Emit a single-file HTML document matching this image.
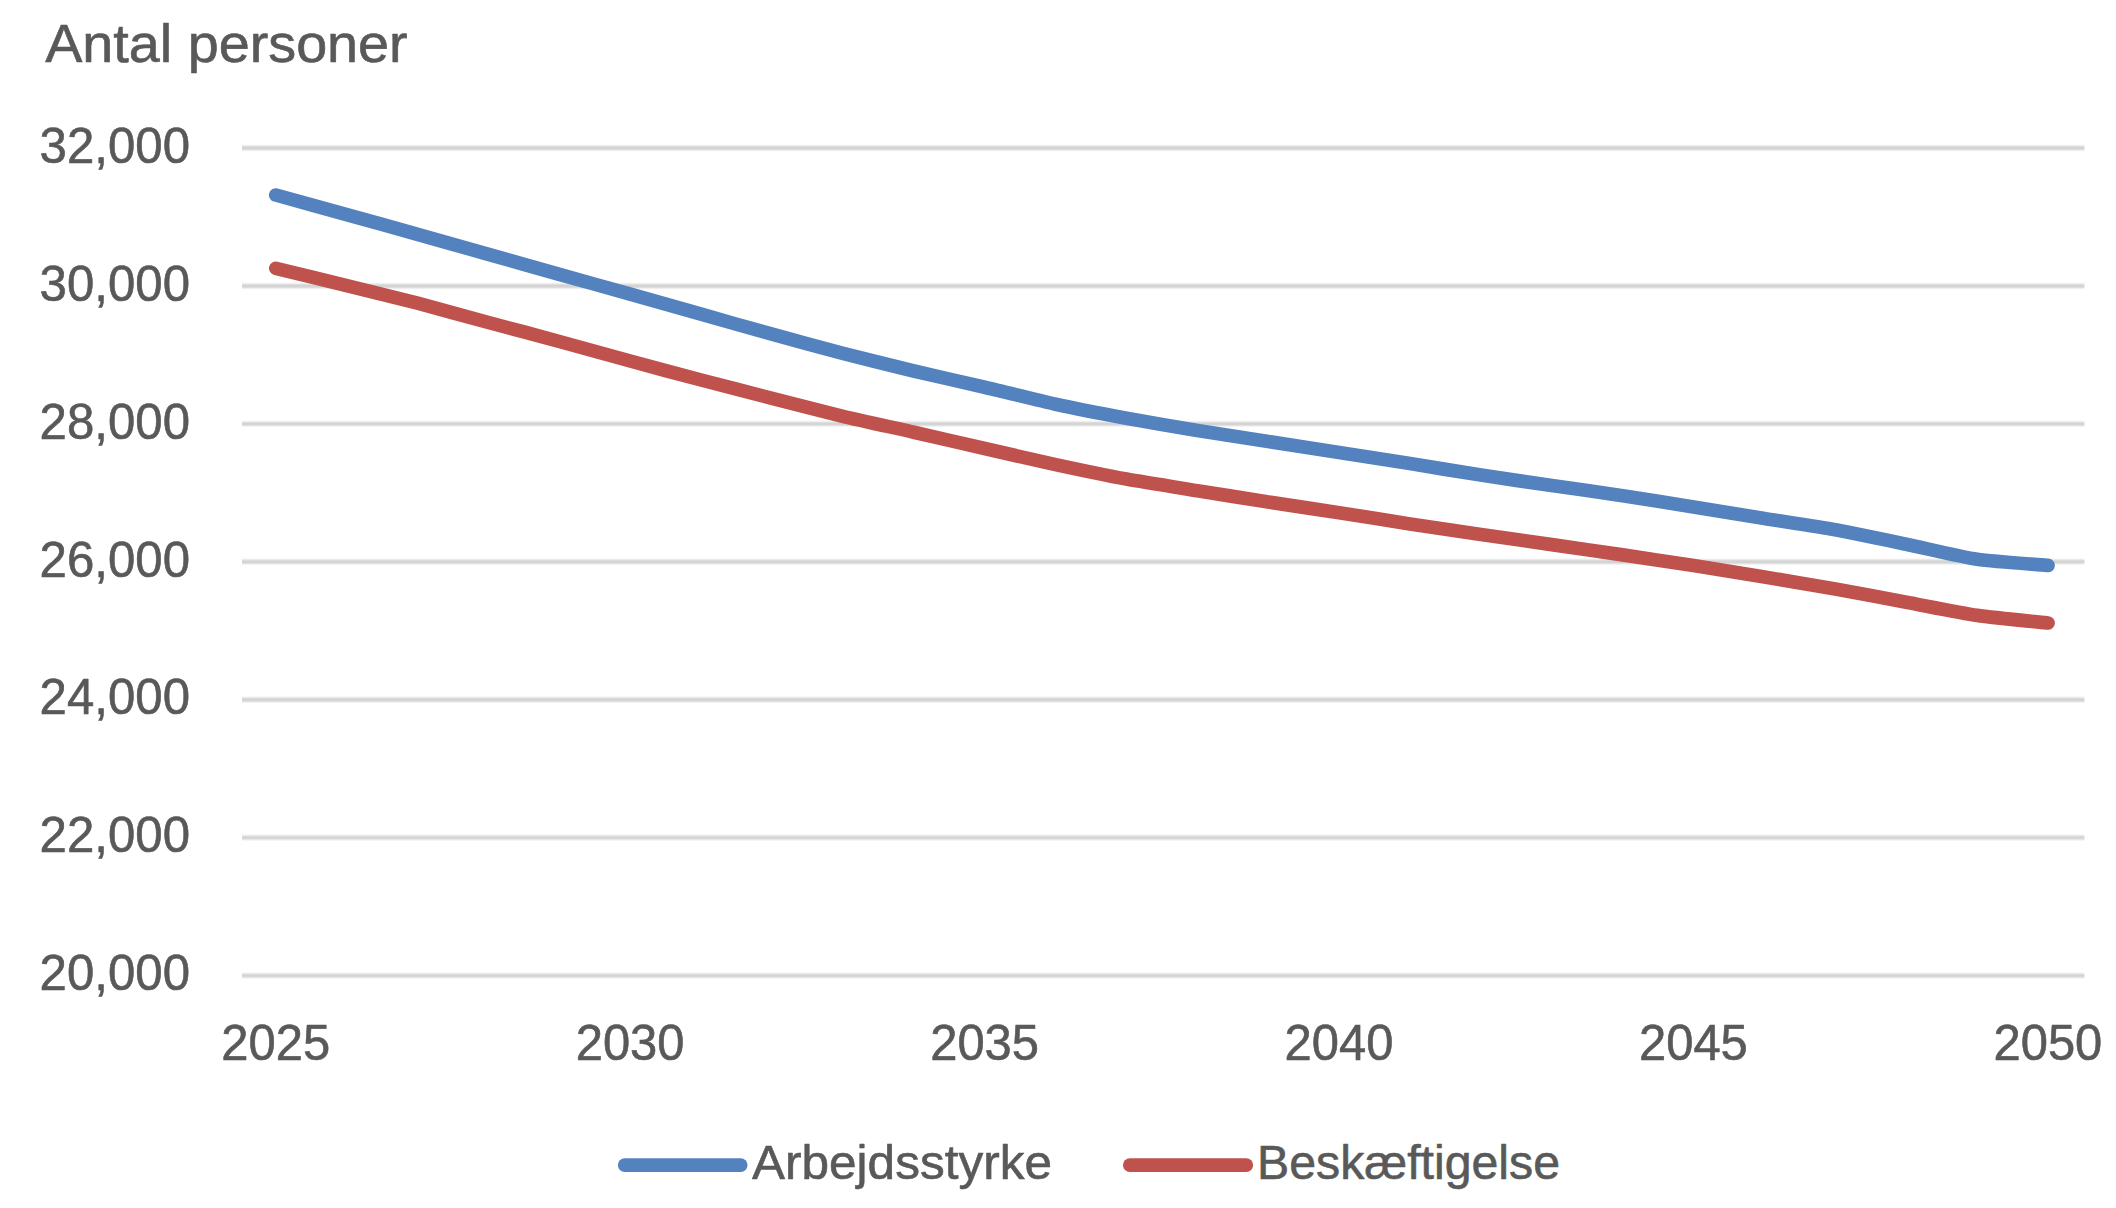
<!DOCTYPE html>
<html lang="da">
<head>
<meta charset="utf-8">
<title>Antal personer</title>
<style>
html,body{margin:0;padding:0;background:#fff;}
body{width:2116px;height:1208px;overflow:hidden;}
svg{display:block;}
text{font-family:"Liberation Sans",sans-serif;fill:#595959;stroke:#595959;stroke-width:0.6px;stroke-linejoin:round;}
</style>
</head>
<body>
<svg width="2116" height="1208" viewBox="0 0 2116 1208">
<rect width="2116" height="1208" fill="#ffffff"/>

<g stroke="#F3F3F3" stroke-width="6.4" fill="none">
<line x1="242.0" y1="148.00" x2="2084.3" y2="148.00"/>
<line x1="242.0" y1="285.93" x2="2084.3" y2="285.93"/>
<line x1="242.0" y1="423.86" x2="2084.3" y2="423.86"/>
<line x1="242.0" y1="561.79" x2="2084.3" y2="561.79"/>
<line x1="242.0" y1="699.72" x2="2084.3" y2="699.72"/>
<line x1="242.0" y1="837.65" x2="2084.3" y2="837.65"/>
<line x1="242.0" y1="975.58" x2="2084.3" y2="975.58"/>
</g>
<g stroke="#E2E2E2" stroke-width="4.4" fill="none">
<line x1="242.0" y1="148.00" x2="2084.3" y2="148.00"/>
<line x1="242.0" y1="285.93" x2="2084.3" y2="285.93"/>
<line x1="242.0" y1="423.86" x2="2084.3" y2="423.86"/>
<line x1="242.0" y1="561.79" x2="2084.3" y2="561.79"/>
<line x1="242.0" y1="699.72" x2="2084.3" y2="699.72"/>
<line x1="242.0" y1="837.65" x2="2084.3" y2="837.65"/>
<line x1="242.0" y1="975.58" x2="2084.3" y2="975.58"/>
</g>
<g stroke="#D4D4D4" stroke-width="2.4" fill="none">
<line x1="242.0" y1="148.00" x2="2084.3" y2="148.00"/>
<line x1="242.0" y1="285.93" x2="2084.3" y2="285.93"/>
<line x1="242.0" y1="423.86" x2="2084.3" y2="423.86"/>
<line x1="242.0" y1="561.79" x2="2084.3" y2="561.79"/>
<line x1="242.0" y1="699.72" x2="2084.3" y2="699.72"/>
<line x1="242.0" y1="837.65" x2="2084.3" y2="837.65"/>
<line x1="242.0" y1="975.58" x2="2084.3" y2="975.58"/>
</g>
<text x="45.2" y="61.9" font-size="53" textLength="362.5" lengthAdjust="spacingAndGlyphs">Antal personer</text>
<text x="39.6" y="162.7" font-size="49.3" textLength="150.4" lengthAdjust="spacingAndGlyphs">32,000</text>
<text x="39.6" y="300.6" font-size="49.3" textLength="150.4" lengthAdjust="spacingAndGlyphs">30,000</text>
<text x="39.6" y="438.6" font-size="49.3" textLength="150.4" lengthAdjust="spacingAndGlyphs">28,000</text>
<text x="39.6" y="576.5" font-size="49.3" textLength="150.4" lengthAdjust="spacingAndGlyphs">26,000</text>
<text x="39.6" y="714.4" font-size="49.3" textLength="150.4" lengthAdjust="spacingAndGlyphs">24,000</text>
<text x="39.6" y="852.4" font-size="49.3" textLength="150.4" lengthAdjust="spacingAndGlyphs">22,000</text>
<text x="39.6" y="990.3" font-size="49.3" textLength="150.4" lengthAdjust="spacingAndGlyphs">20,000</text>
<text x="275.7" y="1059.8" font-size="49.3" text-anchor="middle" textLength="108.8" lengthAdjust="spacingAndGlyphs">2025</text>
<text x="630.1" y="1059.8" font-size="49.3" text-anchor="middle" textLength="108.8" lengthAdjust="spacingAndGlyphs">2030</text>
<text x="984.6" y="1059.8" font-size="49.3" text-anchor="middle" textLength="108.8" lengthAdjust="spacingAndGlyphs">2035</text>
<text x="1339.0" y="1059.8" font-size="49.3" text-anchor="middle" textLength="108.8" lengthAdjust="spacingAndGlyphs">2040</text>
<text x="1693.4" y="1059.8" font-size="49.3" text-anchor="middle" textLength="108.8" lengthAdjust="spacingAndGlyphs">2045</text>
<text x="2047.9" y="1059.8" font-size="49.3" text-anchor="middle" textLength="108.8" lengthAdjust="spacingAndGlyphs">2050</text>
<g fill="none" stroke-width="13.7" stroke-linecap="round" stroke-linejoin="round">
<path stroke="#C0524E" d="M275.80 268.30 C283.60 270.21 331.09 281.86 346.69 285.70 C362.29 289.54 401.98 299.15 417.58 303.20 C433.18 307.25 472.87 318.29 488.47 322.50 C504.07 326.71 543.76 337.26 559.36 341.50 C574.96 345.74 614.65 356.76 630.25 361.00 C645.85 365.24 685.54 375.90 701.14 380.00 C716.74 384.10 756.43 394.31 772.03 398.30 C787.63 402.29 827.32 412.57 842.92 416.30 C858.52 420.03 898.21 428.66 913.81 432.20 C929.41 435.74 969.10 444.94 984.70 448.50 C1000.30 452.06 1039.99 461.23 1055.59 464.60 C1071.19 467.97 1110.88 476.23 1126.48 479.10 C1142.08 481.97 1181.77 488.18 1197.37 490.70 C1212.97 493.22 1252.66 499.58 1268.26 502.00 C1283.86 504.42 1323.55 510.29 1339.15 512.70 C1354.75 515.11 1394.44 521.50 1410.04 523.90 C1425.64 526.30 1465.33 532.22 1480.93 534.50 C1496.53 536.78 1536.22 542.36 1551.82 544.60 C1567.42 546.84 1607.11 552.60 1622.71 554.90 C1638.31 557.20 1678.00 563.07 1693.60 565.50 C1709.20 567.93 1748.89 574.40 1764.49 577.00 C1780.09 579.60 1819.78 586.33 1835.38 589.10 C1850.98 591.87 1890.67 599.31 1906.27 602.20 C1921.87 605.09 1961.56 613.11 1977.16 615.40 C1992.76 617.69 2040.25 622.16 2048.05 623.00"/>
<path stroke="#5382BE" d="M275.80 195.00 C283.60 197.16 331.09 210.28 346.69 214.60 C362.29 218.92 401.98 229.93 417.58 234.30 C433.18 238.67 472.87 249.90 488.47 254.30 C504.07 258.70 543.76 269.91 559.36 274.30 C574.96 278.69 614.65 289.81 630.25 294.20 C645.85 298.59 685.54 309.80 701.14 314.20 C716.74 318.60 756.43 329.90 772.03 334.20 C787.63 338.50 827.32 349.25 842.92 353.30 C858.52 357.35 898.21 367.27 913.81 371.00 C929.41 374.73 969.10 383.55 984.70 387.20 C1000.30 390.85 1039.99 400.79 1055.59 404.20 C1071.19 407.61 1110.88 415.32 1126.48 418.20 C1142.08 421.08 1181.77 427.84 1197.37 430.40 C1212.97 432.96 1252.66 439.08 1268.26 441.50 C1283.86 443.92 1323.55 449.97 1339.15 452.40 C1354.75 454.83 1394.44 461.10 1410.04 463.60 C1425.64 466.10 1465.33 472.69 1480.93 475.10 C1496.53 477.51 1536.22 483.23 1551.82 485.50 C1567.42 487.77 1607.11 493.33 1622.71 495.70 C1638.31 498.06 1678.00 504.49 1693.60 507.00 C1709.20 509.51 1748.89 515.99 1764.49 518.50 C1780.09 521.01 1819.78 526.97 1835.38 529.80 C1850.98 532.63 1890.67 540.96 1906.27 544.20 C1921.87 547.45 1961.56 556.97 1977.16 559.30 C1992.76 561.63 2040.25 564.73 2048.05 565.40"/>
<line stroke="#5382BE" x1="624.7" y1="1165.1" x2="740.7" y2="1165.1"/>
<line stroke="#C0524E" x1="1129.8" y1="1165.1" x2="1246.3" y2="1165.1"/>
</g>
<text x="752" y="1179.4" font-size="47.7" textLength="300" lengthAdjust="spacingAndGlyphs">Arbejdsstyrke</text>
<text x="1257" y="1179.4" font-size="47.7" textLength="303" lengthAdjust="spacingAndGlyphs">Beskæftigelse</text>
</svg>
</body>
</html>
